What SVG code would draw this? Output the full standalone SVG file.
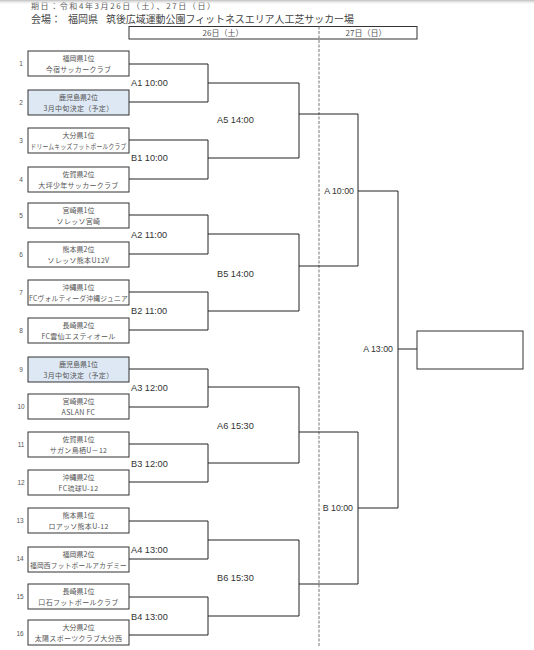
<svg xmlns="http://www.w3.org/2000/svg" width="534" height="650" viewBox="0 0 534 650">
<defs>
<linearGradient id="topshade" x1="0" y1="0" x2="0" y2="1">
<stop offset="0" stop-color="#bdbdbd"/>
<stop offset="1" stop-color="#ffffff" stop-opacity="0"/>
</linearGradient>
<style>
.jp{font-family:"Noto Sans CJK JP","Noto Sans",sans-serif;fill:#555}
.hd{font-size:10px;fill:#444}
.bx{fill:#fff;stroke:#333;stroke-width:1}
.bl{fill:#dde8f4;stroke:#333;stroke-width:1}
.t1{font-size:7px;text-anchor:middle}
.t2{font-size:7px;text-anchor:middle;letter-spacing:0.3px}
.num{font-family:"Liberation Sans",Arial,sans-serif;font-size:6.5px;fill:#555;text-anchor:middle}
.lb{font-family:"Liberation Sans",Arial,sans-serif;font-size:9.2px;fill:#333}
.lr{font-family:"Liberation Sans",Arial,sans-serif;font-size:8.8px;fill:#333;text-anchor:end}
.ln{fill:none;stroke:#222;stroke-width:1}
</style>
</defs>
<rect width="534" height="650" fill="#fff"/>

<g id="header">
<text class="jp" x="31" y="9.4" font-size="8" fill="#444" textLength="184">期日：令和4年3月26日（土）、27日（日）</text>
<text class="jp hd" x="31" y="23.3">会場：</text>
<text class="jp hd" x="68" y="23.3">福岡県</text>
<text class="jp hd" x="106" y="23.3" textLength="248">筑後広域運動公園フィットネスエリア人工芝サッカー場</text>
<rect x="129" y="26.5" width="288" height="12.5" fill="#fff" stroke="#333" stroke-width="1"/>
<text class="jp" x="223" y="35.8" font-size="8" text-anchor="middle">26日（土）</text>
<text class="jp" x="366" y="35.8" font-size="8" text-anchor="middle">27日（日）</text>
<line x1="319" y1="26.5" x2="319" y2="647" stroke="#777" stroke-width="1" stroke-dasharray="3,1.5"/>
</g>
<rect x="0" y="0" width="534" height="5" fill="url(#topshade)"/>

<g id="connectors">
<path class="ln" d="M129,64H208V102H129M208,83H299"/>
<path class="ln" d="M129,140H208V179H129M208,158H299"/>
<path class="ln" d="M129,215H208V254H129M208,234H299"/>
<path class="ln" d="M129,292H208V330H129M208,311H299"/>
<path class="ln" d="M129,369H208V407H129M208,387H299"/>
<path class="ln" d="M129,444H208V482H129M208,463H299"/>
<path class="ln" d="M129,521H208V559H129M208,540H299"/>
<path class="ln" d="M129,597H208V635H129M208,616H299"/>
<path class="ln" d="M299,83V158M299,114H358"/>
<path class="ln" d="M299,234V311M299,266H358"/>
<path class="ln" d="M299,387V463M299,432H358"/>
<path class="ln" d="M299,540V616M299,584H358"/>
<path class="ln" d="M358,114V266M358,191H398"/>
<path class="ln" d="M358,432V584M358,508H398"/>
<path class="ln" d="M398,191V508M398,349H417"/>
<text class="lb" x="131" y="86.3">A1 10:00</text>
<text class="lb" x="131" y="161.3">B1 10:00</text>
<text class="lb" x="131" y="238.3">A2 11:00</text>
<text class="lb" x="131" y="314.3">B2 11:00</text>
<text class="lb" x="131" y="391.3">A3 12:00</text>
<text class="lb" x="131" y="467.3">B3 12:00</text>
<text class="lb" x="131" y="553.3">A4 13:00</text>
<text class="lb" x="131" y="620.3">B4 13:00</text>
<text class="lb" x="217" y="123.3">A5 14:00</text>
<text class="lb" x="217" y="277.3">B5 14:00</text>
<text class="lb" x="217" y="429.3">A6 15:30</text>
<text class="lb" x="217" y="581.3">B6 15:30</text>
<text class="lr" x="354" y="194.2">A 10:00</text>
<text class="lr" x="353" y="511.2">B 10:00</text>
<text class="lr" x="393" y="352.2">A 13:00</text>
</g>

<g id="team1"><rect class="bx" x="28" y="51" width="101" height="25"/><text class="num" x="21" y="66">1</text><text class="jp t1" x="78.5" y="60.5">福岡県1位</text><text class="jp t2" x="78.5" y="71.5">今宿サッカークラブ</text></g>
<g id="team2"><rect class="bl" x="28" y="90" width="101" height="25"/><text class="num" x="21" y="105">2</text><text class="jp t1" x="78.5" y="99.5">鹿児島県2位</text><text class="jp t2" x="78.5" y="110.5">3月中旬決定（予定）</text></g>
<g id="team3"><rect class="bx" x="28" y="128" width="101" height="25"/><text class="num" x="21" y="143">3</text><text class="jp t1" x="78.5" y="137.5">大分県1位</text><text class="jp t2" x="78.5" y="148.5" textLength="96" lengthAdjust="spacingAndGlyphs">ドリームキッズフットボールクラブ</text></g>
<g id="team4"><rect class="bx" x="28" y="167" width="101" height="25"/><text class="num" x="21" y="182">4</text><text class="jp t1" x="78.5" y="176.5">佐賀県2位</text><text class="jp t2" x="78.5" y="187.5">大坪少年サッカークラブ</text></g>
<g id="team5"><rect class="bx" x="28" y="203" width="101" height="25"/><text class="num" x="21" y="218">5</text><text class="jp t1" x="78.5" y="212.5">宮崎県1位</text><text class="jp t2" x="78.5" y="223.5">ソレッソ宮崎</text></g>
<g id="team6"><rect class="bx" x="28" y="242" width="101" height="25"/><text class="num" x="21" y="257">6</text><text class="jp t1" x="78.5" y="251.5">熊本県2位</text><text class="jp t2" x="78.5" y="262.5">ソレッソ熊本U12V</text></g>
<g id="team7"><rect class="bx" x="28" y="280" width="101" height="25"/><text class="num" x="21" y="295">7</text><text class="jp t1" x="78.5" y="289.5">沖縄県1位</text><text class="jp t2" x="78.5" y="300.5" textLength="99" lengthAdjust="spacingAndGlyphs">FCヴォルティーダ沖縄ジュニア</text></g>
<g id="team8"><rect class="bx" x="28" y="318" width="101" height="25"/><text class="num" x="21" y="333">8</text><text class="jp t1" x="78.5" y="327.5">長崎県2位</text><text class="jp t2" x="78.5" y="338.5">FC雲仙エスティオール</text></g>
<g id="team9"><rect class="bl" x="28" y="357" width="101" height="25"/><text class="num" x="21" y="372">9</text><text class="jp t1" x="78.5" y="366.5">鹿児島県1位</text><text class="jp t2" x="78.5" y="377.5">3月中旬決定（予定）</text></g>
<g id="team10"><rect class="bx" x="28" y="394" width="101" height="25"/><text class="num" x="21" y="409">10</text><text class="jp t1" x="78.5" y="403.5">宮崎県2位</text><text class="jp t2" x="78.5" y="414.5">ASLAN FC</text></g>
<g id="team11"><rect class="bx" x="28" y="432" width="101" height="25"/><text class="num" x="21" y="447">11</text><text class="jp t1" x="78.5" y="441.5">佐賀県1位</text><text class="jp t2" x="78.5" y="452.5">サガン鳥栖U－12</text></g>
<g id="team12"><rect class="bx" x="28" y="470" width="101" height="25"/><text class="num" x="21" y="485">12</text><text class="jp t1" x="78.5" y="479.5">沖縄県2位</text><text class="jp t2" x="78.5" y="490.5">FC琉球U-12</text></g>
<g id="team13"><rect class="bx" x="28" y="508" width="101" height="25"/><text class="num" x="20" y="523">13</text><text class="jp t1" x="78.5" y="517.5">熊本県1位</text><text class="jp t2" x="78.5" y="528.5">ロアッソ熊本U-12</text></g>
<g id="team14"><rect class="bx" x="28" y="547" width="101" height="25"/><text class="num" x="20" y="561">14</text><text class="jp t1" x="78.5" y="556.5">福岡県2位</text><text class="jp t2" x="78.5" y="567.5" textLength="97" lengthAdjust="spacingAndGlyphs">福岡西フットボールアカデミー</text></g>
<g id="team15"><rect class="bx" x="28" y="584" width="101" height="25"/><text class="num" x="20" y="599">15</text><text class="jp t1" x="78.5" y="593.5">長崎県1位</text><text class="jp t2" x="78.5" y="604.5">口石フットボールクラブ</text></g>
<g id="team16"><rect class="bx" x="28" y="620" width="101" height="25"/><text class="num" x="20" y="636">16</text><text class="jp t1" x="78.5" y="629.5">大分県2位</text><text class="jp t2" x="78.5" y="640.5">太陽スポーツクラブ大分西</text></g>

<g id="winner"><rect class="bx" x="417" y="331" width="106" height="38"/></g>
</svg>
